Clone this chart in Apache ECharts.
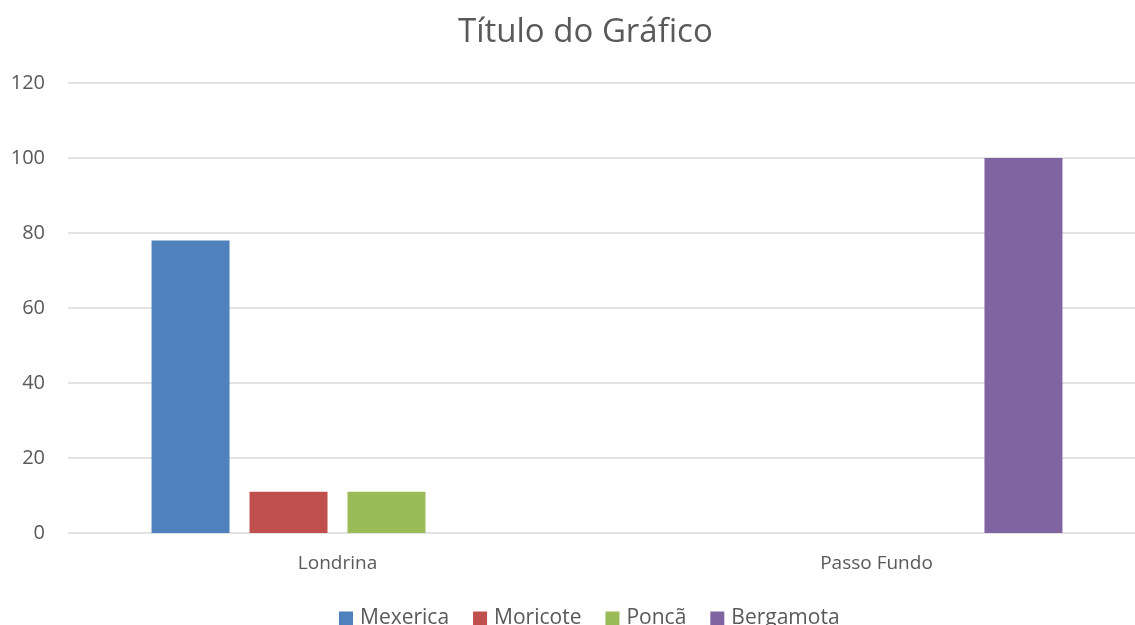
<!DOCTYPE html>
<html lang="pt">
<head>
    <meta charset="UTF-8">
    <title>Título do Gráfico</title>
    <script src="https://cdn.jsdelivr.net/npm/echarts@6/dist/echarts.min.js"></script>
    <style>
        html, body { margin: 0; padding: 0; background: #fff; }
        #chart { width: 1135px; height: 625px; }
    </style>
</head>
<body>
    <div id="chart"></div>
    <script>
        // dados
        const cidades = ['Londrina', 'Passo Fundo'];
        const mexerica = [78, null];
        const moricote = [11, null];
        const ponca = [11, null];
        const bergamota = [null, 100];
        const yTicks = [0, 20, 40, 60, 80, 100, 120];

        const fonte = '"Open Sans", "Noto Sans", sans-serif';
        const cinza = '#595959';

        const chart = echarts.init(document.getElementById('chart'));
        const option = {
            animation: false,
            textStyle: { fontFamily: fonte },
            color: ['#4f81bd', '#c0504d', '#9bbb59', '#8064a2'],
            title: {
                text: 'Título do Gráfico',
                left: 453,
                top: 11,
                textStyle: { fontFamily: fonte, fontSize: 33, fontWeight: 'normal', color: cinza }
            },
            legend: {
                bottom: -9,
                left: 334,
                itemWidth: 14,
                itemHeight: 14,
                itemGap: 24,
                icon: 'rect',
                textStyle: { fontFamily: fonte, fontSize: 21, color: cinza, padding: [0, 0, 0, 2] }
            },
            grid: {
                left: 68,
                top: 83,
                width: 1078,
                height: 450,
                outerBoundsMode: 'none'
            },
            xAxis: {
                type: 'category',
                data: cidades,
                axisLine: { show: false },
                axisTick: { show: false },
                axisLabel: { margin: 21, fontSize: 19, color: cinza, fontFamily: fonte }
            },
            yAxis: {
                type: 'value',
                min: yTicks[0],
                max: yTicks[yTicks.length - 1],
                interval: 20,
                axisLine: { show: false },
                axisTick: { show: false },
                axisLabel: { margin: 23, fontSize: 20, color: cinza, fontFamily: fonte },
                splitLine: { lineStyle: { color: '#d9d9d9', width: 1.5 } }
            },
            series: [
                { name: 'Mexerica', type: 'bar', data: mexerica, barGap: '25.6%', barCategoryGap: '31%' },
                { name: 'Moricote', type: 'bar', data: moricote },
                { name: 'Poncã', type: 'bar', data: ponca },
                { name: 'Bergamota', type: 'bar', data: bergamota }
            ]
        };
        chart.setOption(option);
    </script>
</body>
</html>
